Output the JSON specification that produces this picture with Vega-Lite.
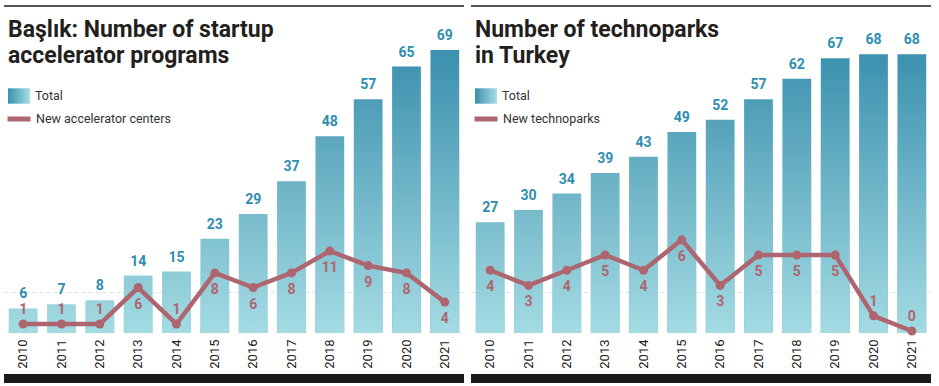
{
  "$schema": "https://vega.github.io/schema/vega-lite/v6.json",
  "background": "white",
  "padding": {"left": 4, "top": 5, "right": 0, "bottom": 0},
  "autosize": {"type": "pad"},
  "spacing": 7,
  "config": {
    "view": {"stroke": null},
    "font": "Roboto",
    "axisX": {"labelAngle": -90, "ticks": false, "domain": false, "grid": false, "title": null, "labelFont": "Roboto", "labelFontSize": 13, "labelColor": "#222222", "labelPadding": 6},
    "axisY": {"labels": false, "ticks": false, "domain": false, "grid": false, "title": null},
    "title": {"font": "Roboto", "fontSize": 23, "fontWeight": "bold", "color": "#231f20", "lineHeight": 26, "anchor": "start", "frame": "group"}
  },
  "datasets": {
    "acc": [
      {"year": "2010", "total": 6, "new": 1},
      {"year": "2011", "total": 7, "new": 1},
      {"year": "2012", "total": 8, "new": 1},
      {"year": "2013", "total": 14, "new": 6},
      {"year": "2014", "total": 15, "new": 1},
      {"year": "2015", "total": 23, "new": 8},
      {"year": "2016", "total": 29, "new": 6},
      {"year": "2017", "total": 37, "new": 8},
      {"year": "2018", "total": 48, "new": 11},
      {"year": "2019", "total": 57, "new": 9},
      {"year": "2020", "total": 65, "new": 8},
      {"year": "2021", "total": 69, "new": 4}
    ],
    "tech": [
      {"year": "2010", "total": 27, "new": 4},
      {"year": "2011", "total": 30, "new": 3},
      {"year": "2012", "total": 34, "new": 4},
      {"year": "2013", "total": 39, "new": 5},
      {"year": "2014", "total": 43, "new": 4},
      {"year": "2015", "total": 49, "new": 6},
      {"year": "2016", "total": 52, "new": 3},
      {"year": "2017", "total": 57, "new": 5},
      {"year": "2018", "total": 62, "new": 5},
      {"year": "2019", "total": 67, "new": 5},
      {"year": "2020", "total": 68, "new": 1},
      {"year": "2021", "total": 68, "new": 0}
    ]
  },
  "resolve": {"scale": {"stroke": "independent", "fill": "independent"}},
  "hconcat": [
    {
      "width": 460,
      "height": 328,
      "title": {"text": ["Başlık: Number of startup", "accelerator programs"], "offset": -63, "dx": 4},
      "data": {"name": "acc"},
      "resolve": {"scale": {"y": "independent", "stroke": "independent"}},
      "layer": [
        {
          "layer": [
            {
              "mark": {"type": "bar", "strokeWidth": 0},
              "encoding": {
                "x": {"field": "year", "type": "ordinal", "scale": {"paddingInner": 0.25, "paddingOuter": 0.125}},
                "y": {"field": "total", "type": "quantitative", "scale": {"domain": [0, 80], "nice": false}, "axis": {"values": [10], "grid": true, "gridColor": "#d3e6ea", "gridDash": [4, 3], "gridWidth": 1}},
                "fill": {"field": "total", "type": "quantitative", "scale": {"domain": [0, 69], "range": ["#a4dbe3", "#3a90ae"]}, "legend": null},
                "stroke": {"datum": "Total", "type": "nominal", "scale": {"range": ["transparent"]},
                  "legend": {"orient": "none", "legendX": 4, "legendY": 80, "title": null, "padding": 0, "symbolType": "M-1,-0.7H1V0.7H-1Z", "symbolSize": 484, "symbolStrokeWidth": 0,
                    "symbolFillColor": {"value": {"gradient": "linear", "x1": 0, "y1": 0, "x2": 1, "y2": 0, "stops": [{"offset": 0, "color": "#3a8fae"}, {"offset": 1, "color": "#a8dfe7"}]}},
                    "labelFont": "Roboto", "labelFontSize": 12.5, "labelColor": "#333333", "labelOffset": 5}}
              }
            },
            {
              "mark": {"type": "bar", "fill": {"gradient": "linear", "x1": 0, "y1": 1, "x2": 0, "y2": 0, "stops": [{"offset": 0, "color": "rgba(164,219,227,1)"}, {"offset": 1, "color": "rgba(164,219,227,0)"}]}},
              "encoding": {
                "x": {"field": "year", "type": "ordinal"},
                "y": {"field": "total", "type": "quantitative", "scale": {"domain": [0, 80], "nice": false}}
              }
            },
            {
              "mark": {"type": "text", "font": "Roboto", "fontWeight": "bold", "fontSize": 14, "color": "#2e8db0", "baseline": "middle", "dy": -14},
              "encoding": {
                "x": {"field": "year", "type": "ordinal"},
                "y": {"field": "total", "type": "quantitative", "scale": {"domain": [0, 80], "nice": false}},
                "text": {"field": "total", "type": "quantitative"}
              }
            },
            {
              "mark": {"type": "rect", "color": "#555555"},
              "encoding": {
                "x": {"value": 0}, "x2": {"value": "width"},
                "y": {"datum": 80, "type": "quantitative", "scale": {"domain": [0, 80], "nice": false}},
                "y2": {"datum": 79.63}
              }
            },
            {
              "mark": {"type": "rect", "color": "#1a1a1a"},
              "encoding": {
                "x": {"value": 0}, "x2": {"value": "width"},
                "y": {"datum": -10.0, "type": "quantitative", "scale": {"domain": [0, 80], "nice": false}},
                "y2": {"datum": -12.2}
              }
            }
          ]
        },
        {
          "encoding": {
            "x": {"field": "year", "type": "ordinal"},
            "y": {"field": "new", "type": "quantitative", "scale": {"domain": [-0.23, 44.7], "nice": false, "zero": false}, "axis": null}
          },
          "layer": [
            {
              "mark": {"type": "line", "strokeWidth": 4.5, "strokeJoin": "round"},
              "encoding": {"stroke": {"datum": "New accelerator centers", "type": "nominal", "scale": {"range": ["#ad6670"]},
                "legend": {"orient": "none", "legendX": 1, "legendY": 100, "title": null, "padding": 0, "symbolType": "stroke", "symbolSize": 529, "symbolStrokeWidth": 5,
                  "labelFont": "Roboto", "labelFontSize": 12.5, "labelColor": "#333333", "labelOffset": 3}}}
            },
            {"mark": {"type": "point", "filled": true, "size": 81, "color": "#ad6670", "opacity": 1}, "encoding": {}},
            {
              "transform": [{"filter": "indexof(['2010','2011','2012','2014'], datum.year) >= 0"}],
              "mark": {"type": "text", "font": "Roboto", "fontWeight": "bold", "fontSize": 14, "color": "#ad6670", "baseline": "middle", "dy": -14},
              "encoding": {"text": {"field": "new", "type": "quantitative"}}
            },
            {
              "transform": [{"filter": "indexof(['2010','2011','2012','2014'], datum.year) < 0"}],
              "mark": {"type": "text", "font": "Roboto", "fontWeight": "bold", "fontSize": 14, "color": "#ad6670", "baseline": "middle", "dy": 17},
              "encoding": {"text": {"field": "new", "type": "quantitative"}}
            }
          ]
        }
      ]
    },
    {
      "width": 460,
      "height": 328,
      "title": {"text": ["Number of technoparks", "in Turkey"], "offset": -63, "dx": 4},
      "data": {"name": "tech"},
      "resolve": {"scale": {"y": "independent", "stroke": "independent"}},
      "layer": [
        {
          "layer": [
            {
              "mark": {"type": "bar", "strokeWidth": 0},
              "encoding": {
                "x": {"field": "year", "type": "ordinal", "scale": {"paddingInner": 0.25, "paddingOuter": 0.125}},
                "y": {"field": "total", "type": "quantitative", "scale": {"domain": [0, 80], "nice": false}, "axis": {"values": [10], "grid": true, "gridColor": "#d3e6ea", "gridDash": [4, 3], "gridWidth": 1}},
                "fill": {"field": "total", "type": "quantitative", "scale": {"domain": [0, 69], "range": ["#a4dbe3", "#3a90ae"]}, "legend": null},
                "stroke": {"datum": "Total", "type": "nominal", "scale": {"range": ["transparent"]},
                  "legend": {"orient": "none", "legendX": 4, "legendY": 80, "title": null, "padding": 0, "symbolType": "M-1,-0.7H1V0.7H-1Z", "symbolSize": 484, "symbolStrokeWidth": 0,
                    "symbolFillColor": {"value": {"gradient": "linear", "x1": 0, "y1": 0, "x2": 1, "y2": 0, "stops": [{"offset": 0, "color": "#3a8fae"}, {"offset": 1, "color": "#a8dfe7"}]}},
                    "labelFont": "Roboto", "labelFontSize": 12.5, "labelColor": "#333333", "labelOffset": 5}}
              }
            },
            {
              "mark": {"type": "bar", "fill": {"gradient": "linear", "x1": 0, "y1": 1, "x2": 0, "y2": 0, "stops": [{"offset": 0, "color": "rgba(164,219,227,1)"}, {"offset": 1, "color": "rgba(164,219,227,0)"}]}},
              "encoding": {
                "x": {"field": "year", "type": "ordinal"},
                "y": {"field": "total", "type": "quantitative", "scale": {"domain": [0, 80], "nice": false}}
              }
            },
            {
              "mark": {"type": "text", "font": "Roboto", "fontWeight": "bold", "fontSize": 14, "color": "#2e8db0", "baseline": "middle", "dy": -14},
              "encoding": {
                "x": {"field": "year", "type": "ordinal"},
                "y": {"field": "total", "type": "quantitative", "scale": {"domain": [0, 80], "nice": false}},
                "text": {"field": "total", "type": "quantitative"}
              }
            },
            {
              "mark": {"type": "rect", "color": "#555555"},
              "encoding": {
                "x": {"value": 0}, "x2": {"value": "width"},
                "y": {"datum": 80, "type": "quantitative", "scale": {"domain": [0, 80], "nice": false}},
                "y2": {"datum": 79.63}
              }
            },
            {
              "mark": {"type": "rect", "color": "#1a1a1a"},
              "encoding": {
                "x": {"value": 0}, "x2": {"value": "width"},
                "y": {"datum": -10.0, "type": "quantitative", "scale": {"domain": [0, 80], "nice": false}},
                "y2": {"datum": -12.2}
              }
            }
          ]
        },
        {
          "encoding": {
            "x": {"field": "year", "type": "ordinal"},
            "y": {"field": "new", "type": "quantitative", "scale": {"domain": [-0.13, 21.45], "nice": false, "zero": false}, "axis": null}
          },
          "layer": [
            {
              "mark": {"type": "line", "strokeWidth": 4.5, "strokeJoin": "round"},
              "encoding": {"stroke": {"datum": "New technoparks", "type": "nominal", "scale": {"range": ["#ad6670"]},
                "legend": {"orient": "none", "legendX": 1, "legendY": 100, "title": null, "padding": 0, "symbolType": "stroke", "symbolSize": 529, "symbolStrokeWidth": 5,
                  "labelFont": "Roboto", "labelFontSize": 12.5, "labelColor": "#333333", "labelOffset": 3}}}
            },
            {"mark": {"type": "point", "filled": true, "size": 81, "color": "#ad6670", "opacity": 1}, "encoding": {}},
            {
              "transform": [{"filter": "indexof(['2020','2021'], datum.year) >= 0"}],
              "mark": {"type": "text", "font": "Roboto", "fontWeight": "bold", "fontSize": 14, "color": "#ad6670", "baseline": "middle", "dy": -14},
              "encoding": {"text": {"field": "new", "type": "quantitative"}}
            },
            {
              "transform": [{"filter": "indexof(['2020','2021'], datum.year) < 0"}],
              "mark": {"type": "text", "font": "Roboto", "fontWeight": "bold", "fontSize": 14, "color": "#ad6670", "baseline": "middle", "dy": 17},
              "encoding": {"text": {"field": "new", "type": "quantitative"}}
            }
          ]
        }
      ]
    }
  ]
}
